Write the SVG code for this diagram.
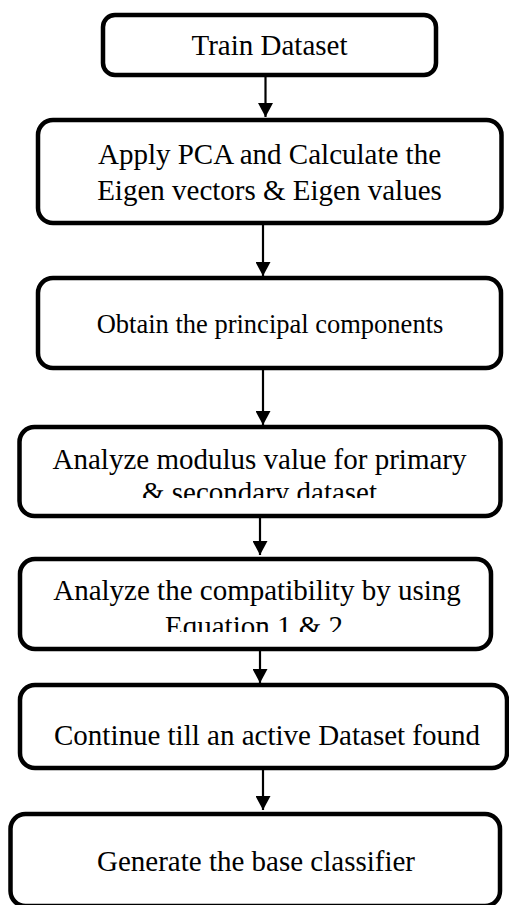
<svg xmlns="http://www.w3.org/2000/svg" width="509" height="905" viewBox="0 0 509 905">
<style>
.box{fill:#fff;stroke:#000;stroke-width:4.5}
.t{font-family:'Liberation Serif','Times New Roman',Tinos,'DejaVu Serif',serif;font-size:29px;fill:#000;text-anchor:middle}
.c{stroke:#000;stroke-width:2.2;fill:none}
</style>
<defs>
<marker id="ah" markerUnits="userSpaceOnUse" markerWidth="16" markerHeight="15" refX="14" refY="7.5" orient="auto">
<path d="M0,0 L14,7.5 L0,15 Z" fill="#000"/>
</marker>
<clipPath id="clip4"><rect x="0" y="0" width="509" height="498"/></clipPath>
<clipPath id="clip5"><rect x="0" y="0" width="509" height="632"/></clipPath>
</defs>
<rect width="509" height="905" fill="#fff"/>
<g id="connectors">
<line class="c" x1="265.5" y1="77" x2="265.5" y2="117" marker-end="url(#ah)"/>
<line class="c" x1="263" y1="225" x2="263" y2="276" marker-end="url(#ah)"/>
<line class="c" x1="263" y1="370" x2="263" y2="425" marker-end="url(#ah)"/>
<line class="c" x1="260" y1="518" x2="260" y2="555" marker-end="url(#ah)"/>
<line class="c" x1="260" y1="651" x2="260" y2="683" marker-end="url(#ah)"/>
<line class="c" x1="263" y1="770" x2="263" y2="810" marker-end="url(#ah)"/>
</g>
<g id="n1">
<rect class="box" x="103" y="15" width="333" height="60" rx="12"/>
<text class="t" x="269.5" y="55">Train Dataset</text>
</g>
<g id="n2">
<rect class="box" x="38" y="120" width="463.5" height="103" rx="15"/>
<text class="t" x="269.5" y="164">Apply PCA and Calculate the</text>
<text class="t" x="269.5" y="200">Eigen vectors &amp; Eigen values</text>
</g>
<g id="n3">
<rect class="box" x="38" y="278" width="463" height="90" rx="15"/>
<text class="t" x="270" y="333" style="font-size:26.5px">Obtain the principal components</text>
</g>
<g id="n4">
<rect class="box" x="19.5" y="427" width="481" height="89" rx="15"/>
<text class="t" x="259.5" y="469">Analyze modulus value for primary</text>
<text class="t" x="259.5" y="502" clip-path="url(#clip4)">&amp; secondary dataset</text>
</g>
<g id="n5">
<rect class="box" x="20" y="559" width="471" height="90" rx="15"/>
<text class="t" x="257" y="600">Analyze the compatibility by using</text>
<text class="t" x="254" y="636" clip-path="url(#clip5)">Equation 1 &amp; 2</text>
</g>
<g id="n6">
<rect class="box" x="20" y="685" width="487" height="83" rx="15"/>
<text class="t" x="267" y="745">Continue till an active Dataset found</text>
</g>
<g id="n7">
<rect class="box" x="10.5" y="814" width="489.5" height="92" rx="15"/>
<text class="t" x="256" y="871">Generate the base classifier</text>
</g>
</svg>
